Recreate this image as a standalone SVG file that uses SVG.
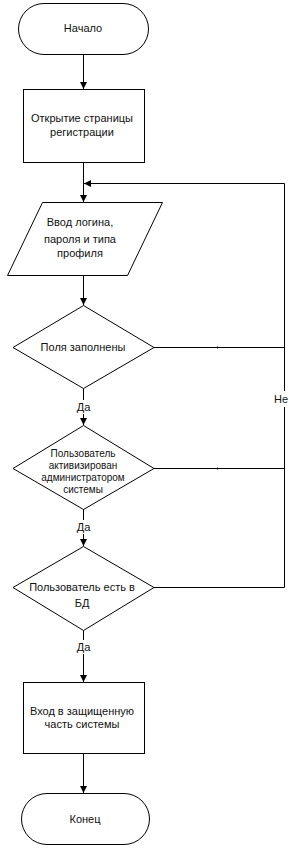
<svg xmlns="http://www.w3.org/2000/svg" width="289" height="849" viewBox="0 0 289 849">
<style>
.s{fill:#fff;stroke:#000;stroke-width:1}
.c{fill:none;stroke:#000;stroke-width:1}
.t{font-family:"Liberation Sans",Arial,sans-serif;font-size:11px;fill:#111;text-anchor:middle}
.sm{font-size:10px}
.bg{fill:#fff;stroke:none}
</style>
<defs>
<marker id="a" viewBox="0 0 10 10" refX="10" refY="5" markerWidth="7" markerHeight="7" markerUnits="userSpaceOnUse" orient="auto">
<path d="M0,0 L10,5 L0,10 Z" fill="#000"/>
</marker>
<marker id="m" viewBox="0 0 10 10" refX="5" refY="5" markerWidth="3" markerHeight="3" markerUnits="userSpaceOnUse" orient="auto">
<path d="M0,0 L10,5 L0,10 Z" fill="#000"/>
</marker>
</defs>
<g id="connectors">
<line class="c" x1="83.5" y1="54" x2="83.5" y2="89" marker-end="url(#a)"/>
<line class="c" x1="83.5" y1="162" x2="83.5" y2="202" marker-end="url(#a)"/>
<line class="c" x1="83.5" y1="275" x2="83.5" y2="305" marker-end="url(#a)"/>
<line class="c" x1="83.5" y1="388" x2="83.5" y2="425" marker-end="url(#a)"/>
<line class="c" x1="83.5" y1="509" x2="83.5" y2="546" marker-end="url(#a)"/>
<line class="c" x1="83.5" y1="630" x2="83.5" y2="682" marker-end="url(#a)"/>
<line class="c" x1="83.5" y1="753" x2="83.5" y2="793" marker-end="url(#a)"/>
<polyline class="c" points="154,347.5 218,347.5 284.5,347.5" marker-mid="url(#m)"/>
<polyline class="c" points="154,468.5 218,468.5 284.5,468.5" marker-mid="url(#m)"/>
<line class="c" x1="154" y1="587.5" x2="284.5" y2="587.5"/>
<polyline class="c" points="284.5,587.5 284.5,183.5 84,183.5" marker-end="url(#a)"/>
<rect class="bg" x="74" y="400" width="19" height="14"/>
<text class="t" x="83.5" y="411">Да</text>
<rect class="bg" x="74" y="520" width="19" height="14"/>
<text class="t" x="83.5" y="531">Да</text>
<rect class="bg" x="74" y="640" width="19" height="14"/>
<text class="t" x="83.5" y="651">Да</text>
<rect class="bg" x="272" y="391" width="17" height="16"/>
<text class="t" x="274" y="403" style="text-anchor:start">Не</text>
</g>
<g id="start">
<rect class="s" x="18.5" y="3.5" width="130" height="51" rx="25.5" ry="25.5"/>
<text class="t" x="83" y="32">Начало</text>
</g>
<g id="open-page">
<rect class="s" x="23.5" y="89.5" width="121" height="73"/>
<text class="t" x="82" y="122">Открытие страницы</text>
<text class="t" x="82" y="136">регистрации</text>
</g>
<g id="input">
<polygon class="s" points="42.5,202.5 162.5,202.5 127.5,275.5 7.5,275.5"/>
<text class="t" x="80" y="226">Ввод логина,</text>
<text class="t" x="80" y="243">пароля и типа</text>
<text class="t" x="80" y="257">профиля</text>
</g>
<g id="check-fields">
<polygon class="s" points="83.5,305.5 154,347.5 83.5,388.5 13,347.5"/>
<text class="t" x="83" y="351">Поля заполнены</text>
</g>
<g id="check-active">
<polygon class="s" points="83.5,425.5 154,468.5 83.5,509.5 13,468.5"/>
<text class="t sm" x="83" y="457">Пользователь</text>
<text class="t sm" x="83" y="469">активизирован</text>
<text class="t sm" x="83" y="481">администратором</text>
<text class="t sm" x="83" y="493">системы</text>
</g>
<g id="check-db">
<polygon class="s" points="83.5,546.5 154,587.5 83.5,630.5 13,587.5"/>
<text class="t" x="82" y="591">Пользователь есть в</text>
<text class="t" x="82" y="607">БД</text>
</g>
<g id="enter">
<rect class="s" x="23.5" y="682.5" width="121" height="71"/>
<text class="t" x="82" y="715">Вход в защищенную</text>
<text class="t" x="82" y="728">часть системы</text>
</g>
<g id="end">
<rect class="s" x="21.5" y="793.5" width="128" height="51" rx="25.5" ry="25.5"/>
<text class="t" x="85" y="823">Конец</text>
</g>
</svg>
